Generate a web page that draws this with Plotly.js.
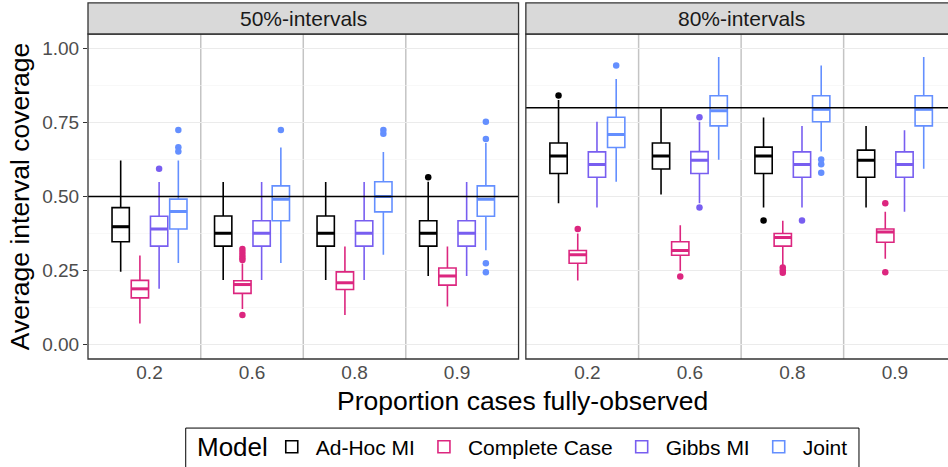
<!DOCTYPE html>
<html>
<head>
<meta charset="utf-8">
<script src="https://cdn.plot.ly/plotly-3.0.1.min.js"></script>
<style>html,body{margin:0;padding:0;background:#fff;}#chart{width:948px;height:467px;}</style>
</head>
<body>
<div id="chart"></div>
<script>
// ---------- data ----------
const categories = ['0.2', '0.6', '0.8', '0.9'];
const models = ['Ad-Hoc MI', 'Complete Case', 'Gibbs MI', 'Joint'];
const panels = ['50%-intervals', '80%-intervals'];
const refLines = [0.5, 0.8];

// 50%-intervals
const adhoc50_hi  = [0.622, 0.549, 0.549, 0.550];
const adhoc50_q3  = [0.4625, 0.434, 0.434, 0.418];
const adhoc50_med = [0.398, 0.376, 0.376, 0.376];
const adhoc50_q1  = [0.347, 0.332, 0.332, 0.332];
const adhoc50_lo  = [0.245, 0.217, 0.217, 0.231];
const adhoc50_outX = ['0.9'];
const adhoc50_outY = [0.565];

const cc50_hi  = [0.300, 0.273, 0.331, 0.331];
const cc50_q3  = [0.216, 0.215, 0.245, 0.258];
const cc50_med = [0.1875, 0.202, 0.208, 0.231];
const cc50_q1  = [0.157, 0.172, 0.185, 0.200];
const cc50_lo  = [0.070, 0.119, 0.099, 0.128];
const cc50_outX = ['0.6', '0.6', '0.6', '0.6', '0.6', '0.6'];
const cc50_outY = [0.322, 0.312, 0.302, 0.293, 0.285, 0.099];

const gibbs50_hi  = [0.549, 0.549, 0.549, 0.549];
const gibbs50_q3  = [0.433, 0.418, 0.418, 0.418];
const gibbs50_med = [0.390, 0.376, 0.376, 0.376];
const gibbs50_q1  = [0.332, 0.332, 0.332, 0.332];
const gibbs50_lo  = [0.1875, 0.217, 0.217, 0.231];
const gibbs50_outX = ['0.2'];
const gibbs50_outY = [0.594];

const joint50_hi  = [0.622, 0.666, 0.651, 0.681];
const joint50_q3  = [0.491, 0.536, 0.550, 0.536];
const joint50_med = [0.449, 0.491, 0.500, 0.491];
const joint50_q1  = [0.390, 0.418, 0.448, 0.433];
const joint50_lo  = [0.275, 0.275, 0.303, 0.318];
const joint50_outX = ['0.2', '0.2', '0.2', '0.6', '0.8', '0.8', '0.9', '0.9', '0.9', '0.9'];
const joint50_outY = [0.725, 0.667, 0.652, 0.725, 0.725, 0.712, 0.753, 0.695, 0.274, 0.244];

// 80%-intervals
const adhoc80_hi  = [0.827, 0.798, 0.767, 0.739];
const adhoc80_q3  = [0.681, 0.681, 0.667, 0.657];
const adhoc80_med = [0.6375, 0.6375, 0.6375, 0.623];
const adhoc80_q1  = [0.578, 0.593, 0.578, 0.565];
const adhoc80_lo  = [0.477, 0.507, 0.4625, 0.4625];
const adhoc80_outX = ['0.2', '0.8'];
const adhoc80_outY = [0.842, 0.419];

const cc80_hi  = [0.375, 0.403, 0.418, 0.448];
const cc80_q3  = [0.317, 0.347, 0.375, 0.390];
const cc80_med = [0.303, 0.317, 0.361, 0.380];
const cc80_q1  = [0.274, 0.301, 0.332, 0.345];
const cc80_lo  = [0.216, 0.248, 0.267, 0.289];
const cc80_outX = ['0.2', '0.6', '0.8', '0.8', '0.8', '0.9', '0.9'];
const cc80_outY = [0.390, 0.2295, 0.260, 0.250, 0.242, 0.477, 0.244];

const gibbs80_hi  = [0.753, 0.753, 0.739, 0.724];
const gibbs80_q3  = [0.651, 0.652, 0.651, 0.651];
const gibbs80_med = [0.608, 0.623, 0.608, 0.608];
const gibbs80_q1  = [0.565, 0.578, 0.565, 0.565];
const gibbs80_lo  = [0.4625, 0.477, 0.4625, 0.448];
const gibbs80_outX = ['0.6', '0.6', '0.8'];
const gibbs80_outY = [0.768, 0.4625, 0.419];

const joint80_hi  = [0.898, 0.972, 0.943, 0.972];
const joint80_q3  = [0.768, 0.841, 0.841, 0.841];
const joint80_med = [0.710, 0.790, 0.795, 0.795];
const joint80_q1  = [0.666, 0.739, 0.753, 0.739];
const joint80_lo  = [0.550, 0.624, 0.652, 0.594];
const joint80_outX = ['0.2', '0.8', '0.8', '0.8'];
const joint80_outY = [0.943, 0.625, 0.609, 0.580];

const colors = ['#000000', '#DC267F', '#785EF0', '#648FFF'];

// ---------- build ----------
const panelData = [
  [
    {hi: adhoc50_hi, q3: adhoc50_q3, med: adhoc50_med, q1: adhoc50_q1, lo: adhoc50_lo, ox: adhoc50_outX, oy: adhoc50_outY},
    {hi: cc50_hi, q3: cc50_q3, med: cc50_med, q1: cc50_q1, lo: cc50_lo, ox: cc50_outX, oy: cc50_outY},
    {hi: gibbs50_hi, q3: gibbs50_q3, med: gibbs50_med, q1: gibbs50_q1, lo: gibbs50_lo, ox: gibbs50_outX, oy: gibbs50_outY},
    {hi: joint50_hi, q3: joint50_q3, med: joint50_med, q1: joint50_q1, lo: joint50_lo, ox: joint50_outX, oy: joint50_outY}
  ],
  [
    {hi: adhoc80_hi, q3: adhoc80_q3, med: adhoc80_med, q1: adhoc80_q1, lo: adhoc80_lo, ox: adhoc80_outX, oy: adhoc80_outY},
    {hi: cc80_hi, q3: cc80_q3, med: cc80_med, q1: cc80_q1, lo: cc80_lo, ox: cc80_outX, oy: cc80_outY},
    {hi: gibbs80_hi, q3: gibbs80_q3, med: gibbs80_med, q1: gibbs80_q1, lo: gibbs80_lo, ox: gibbs80_outX, oy: gibbs80_outY},
    {hi: joint80_hi, q3: joint80_q3, med: joint80_med, q1: joint80_q1, lo: joint80_lo, ox: joint80_outX, oy: joint80_outY}
  ]
];

const FONT = 'Liberation Sans, Arial, sans-serif';
const traces = [];
panelData.forEach((pd, p) => {
  const xa = p === 0 ? 'x' : 'x2';
  const ya = p === 0 ? 'y' : 'y2';
  pd.forEach((d, m) => {
    traces.push({
      type: 'box', name: models[m], legendgroup: models[m], showlegend: p === 0,
      xaxis: xa, yaxis: ya, offsetgroup: models[m], alignmentgroup: 'a' + p,
      x: categories, q1: d.q1, median: d.med, q3: d.q3, lowerfence: d.lo, upperfence: d.hi,
      line: {color: colors[m], width: 1.6}, fillcolor: 'rgba(255,255,255,0)',
      whiskerwidth: 0, hoverinfo: 'skip'
    });
  });
  pd.forEach((d, m) => {
    traces.push({
      type: 'scatter', mode: 'markers', name: models[m] + ' median', showlegend: false,
      xaxis: xa, yaxis: ya, offsetgroup: models[m], alignmentgroup: 's' + p,
      x: categories, y: d.med,
      marker: {symbol: 'line-ew', size: 12.5, line: {color: colors[m], width: 3}},
      hoverinfo: 'skip'
    });
    traces.push({
      type: 'scatter', mode: 'markers', name: models[m] + ' outliers', showlegend: false,
      xaxis: xa, yaxis: ya, offsetgroup: models[m], alignmentgroup: 's' + p,
      x: d.ox, y: d.oy,
      marker: {symbol: 'circle', size: 6.5, color: colors[m]},
      hoverinfo: 'skip'
    });
  });
});

// ---------- layout ----------
const W = 948, H = 467;
const mL = 88.3, mR = 0, mT = 34.3, mB = 108;
const plotW = W - mL - mR, plotH = H - mT - mB;
const pxX = px => (px - mL) / plotW;
const pxY = py => (H - mB - py) / plotH;

const xDom1 = [0, pxX(518.7)];
const xDom2 = [pxX(526), 1];
const catUnit = (518.7 - 88.3) / 4.2;
const x2max = 3.6 - (526 + 4.2 * catUnit - W) / catUnit;

const axisCommon = {
  type: 'category', categoryorder: 'array', categoryarray: categories,
  showgrid: false, zeroline: false, showline: false, ticks: '',
  tickfont: {family: FONT, size: 19, color: '#4D4D4D'},
  fixedrange: true
};
const yCommon = {
  range: [-0.05, 1.05], tickvals: [0, 0.25, 0.5, 0.75, 1], ticktext: ['0.00', '0.25', '0.50', '0.75', '1.00'],
  showgrid: true, gridcolor: '#EBEBEB', gridwidth: 1.1, zeroline: false, showline: false,
  minor: {tickvals: [0.125, 0.375, 0.625, 0.875], showgrid: true, gridcolor: '#F3F3F3', gridwidth: 0.6, ticks: ''},
  fixedrange: true
};

const shapes = [];
const annotations = [];
const stripTop = pxY(3.3);
const stripCentersPx = [(88.3 + 518.7) / 2, (526 + 526 + 4.2 * catUnit) / 2];
[['x', 'y'], ['x2', 'y2']].forEach(([xa, ya], p) => {
  [0.5, 1.5, 2.5].forEach(v => shapes.push({
    type: 'line', xref: xa, yref: ya + ' domain', x0: v, x1: v, y0: 0, y1: 1,
    line: {color: '#C4C4C4', width: 1.5}, layer: 'below'
  }));
  shapes.push({
    type: 'line', xref: xa + ' domain', yref: ya, x0: 0, x1: 1, y0: refLines[p], y1: refLines[p],
    line: {color: '#000000', width: 1.5}, layer: 'above'
  });
  const xEnd = p === 0 ? 1 : 1.05;
  shapes.push({
    type: 'rect', xref: xa + ' domain', yref: ya + ' domain', x0: 0, x1: xEnd, y0: 0, y1: 1,
    line: {color: '#333333', width: 1.3}, fillcolor: 'rgba(0,0,0,0)', layer: 'above'
  });
  shapes.push({
    type: 'rect', xref: xa + ' domain', yref: 'paper', x0: 0, x1: xEnd, y0: 1, y1: stripTop,
    line: {color: '#333333', width: 1.3}, fillcolor: '#D9D9D9', layer: 'above'
  });
  annotations.push({
    text: panels[p], xref: 'paper', yref: 'paper',
    x: pxX(stripCentersPx[p]), y: (1 + stripTop) / 2,
    xanchor: 'center', yanchor: 'middle', showarrow: false,
    font: {family: FONT, size: 21, color: '#1A1A1A'}
  });
});

// shared x-axis title
annotations.push({
  text: 'Proportion cases fully-observed', xref: 'paper', yref: 'paper',
  x: pxX(522.5), y: pxY(401), xanchor: 'center', yanchor: 'middle', showarrow: false,
  font: {family: FONT, size: 26.5, color: '#000000'}
});

// legend frame and title
shapes.push({
  type: 'rect', xref: 'paper', yref: 'paper', x0: pxX(186), x1: pxX(859), y0: pxY(428), y1: pxY(480),
  line: {color: '#000000', width: 1}, fillcolor: 'rgba(0,0,0,0)', layer: 'above'
});
annotations.push({
  text: 'Model', xref: 'paper', yref: 'paper', x: pxX(195), y: pxY(447),
  xanchor: 'left', yanchor: 'middle', showarrow: false,
  font: {family: FONT, size: 26, color: '#000000'}
});

const layout = {
  width: W, height: H,
  margin: {l: mL, r: mR, t: mT, b: mB, pad: 0, autoexpand: false},
  paper_bgcolor: '#FFFFFF', plot_bgcolor: '#FFFFFF',
  boxmode: 'group', boxgap: 0.25, boxgroupgap: 0.1,
  scattermode: 'group', scattergap: 0.25,
  xaxis: Object.assign({}, axisCommon, {domain: xDom1, anchor: 'y', range: [-0.6, 3.6]}),
  xaxis2: Object.assign({}, axisCommon, {domain: xDom2, anchor: 'y2', range: [-0.6, x2max]}),
  yaxis: Object.assign({}, yCommon, {
    anchor: 'x', ticks: 'outside', ticklen: 4, tickwidth: 1.1, tickcolor: '#333333',
    tickfont: {family: FONT, size: 19, color: '#4D4D4D'},
    title: {text: 'Average interval coverage', standoff: 4,
      font: {family: FONT, size: 26.5, color: '#000000'}}
  }),
  yaxis2: Object.assign({}, yCommon, {anchor: 'x2', matches: 'y', showticklabels: false, ticks: ''}),
  showlegend: true,
  legend: {
    orientation: 'h', x: pxX(268), xanchor: 'left', y: pxY(447), yanchor: 'middle',
    borderwidth: 0, bgcolor: 'rgba(0,0,0,0)',
    font: {family: FONT, size: 21, color: '#000000'},
    itemwidth: 38, tracegroupgap: 0
  },
  shapes: shapes,
  annotations: annotations
};

Plotly.newPlot('chart', traces, layout, {displayModeBar: false, staticPlot: true});
</script>
</body>
</html>
